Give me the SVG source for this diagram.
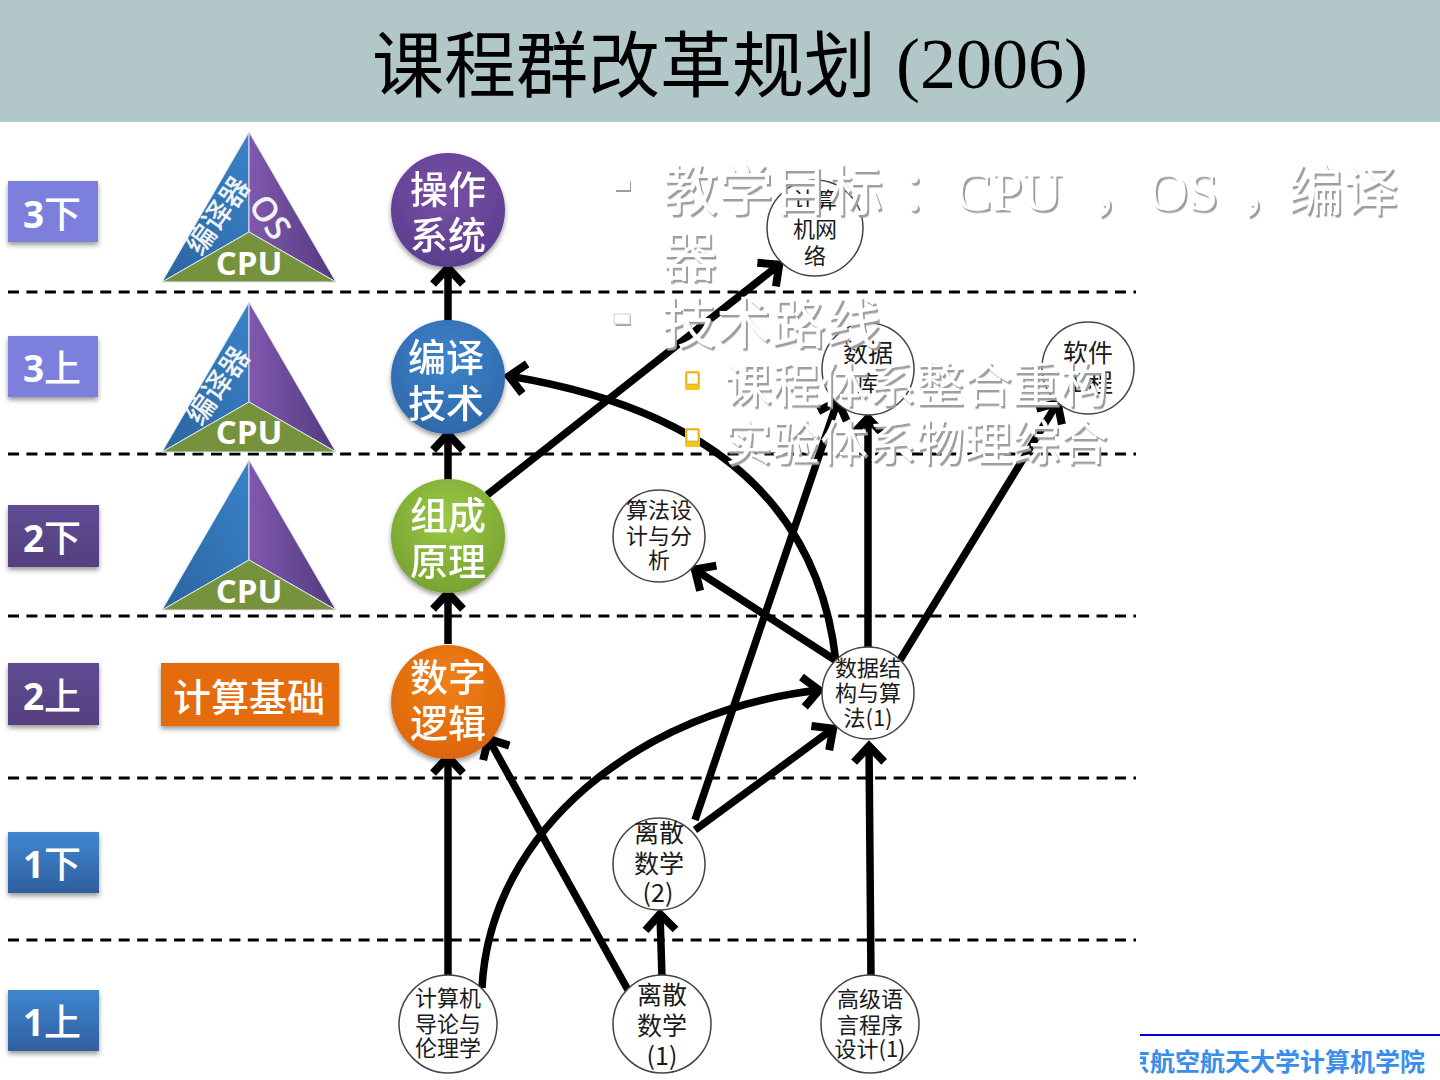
<svg xmlns="http://www.w3.org/2000/svg" width="1440" height="1080" viewBox="0 0 1440 1080">
<style>
.cjk{font-family:"Noto Sans CJK SC","Liberation Sans",sans-serif}
.serif{font-family:"Liberation Serif","Noto Sans CJK SC",serif}
.dash{stroke:#000;stroke-width:3;stroke-dasharray:11 7.45;fill:none}
.con{stroke:#000;stroke-width:7.5;fill:none;marker-end:url(#arrow)}
.course{fill:#fff;stroke:#444;stroke-width:1.5}
.ct{font-family:"Noto Sans CJK SC","Liberation Sans",sans-serif;font-size:22px;fill:#1a1a1a;text-anchor:middle}
.ct2{font-size:25px}
.big{font-family:"Noto Sans CJK SC","Liberation Sans",sans-serif;font-size:38px;fill:#fff;text-anchor:middle;font-weight:500}
.lab{font-family:"Noto Sans CJK SC","Open Sans",sans-serif;font-size:37px;fill:#fff;text-anchor:middle;font-weight:500}
.lab tspan{font-family:"Open Sans",sans-serif;font-weight:700}
.tri{stroke:#dfe6ee;stroke-width:1}
.cpu{font-family:"Open Sans","Liberation Sans",sans-serif;font-size:33px;font-weight:700;fill:#fff;text-anchor:middle}
.tt{font-family:"Noto Sans CJK SC",sans-serif;font-size:29px;font-weight:500;fill:#f2f2f2;text-anchor:middle}
.os{font-family:"Open Sans",sans-serif;font-size:34px;font-weight:600;fill:#f2f2f2;text-anchor:middle}
.ov{fill:#fff;filter:url(#hard)}
</style>
<defs>
<marker id="arrow" markerUnits="userSpaceOnUse" markerWidth="44" markerHeight="44" refX="28" refY="22" orient="auto" viewBox="0 0 44 44">
<path d="M11 7 L27 22 L11 37" fill="none" stroke="#000" stroke-width="8" stroke-linejoin="miter"/>
</marker>
<filter id="hard" x="-5%" y="-10%" width="110%" height="125%"><feDropShadow dx="2" dy="2.5" stdDeviation="0.3" flood-color="#9e9e9e"/></filter>
<filter id="soft" x="-15%" y="-15%" width="130%" height="130%"><feDropShadow dx="0" dy="3" stdDeviation="2.5" flood-color="#000" flood-opacity="0.4"/></filter>
<linearGradient id="gv" x1="0" y1="0" x2="0" y2="1"><stop offset="0" stop-color="#5f4b94"/><stop offset="1" stop-color="#55407f"/></linearGradient>
<linearGradient id="gb" x1="0" y1="0" x2="0" y2="1"><stop offset="0" stop-color="#3f86d0"/><stop offset="1" stop-color="#2f5f9f"/></linearGradient>
<linearGradient id="gTriB" x1="0" y1="1" x2="1" y2="0"><stop offset="0" stop-color="#2a659f"/><stop offset="1" stop-color="#3a82c8"/></linearGradient>
<linearGradient id="gTriV" x1="0" y1="0" x2="1" y2="0"><stop offset="0" stop-color="#8058ae"/><stop offset="1" stop-color="#523a7e"/></linearGradient>
<radialGradient id="cPurple" cx="0.5" cy="0.35" r="0.7"><stop offset="0" stop-color="#7a50a8"/><stop offset="1" stop-color="#5a3c8c"/></radialGradient>
<radialGradient id="cBlue" cx="0.5" cy="0.35" r="0.7"><stop offset="0" stop-color="#3f84cc"/><stop offset="1" stop-color="#2d66a8"/></radialGradient>
<radialGradient id="cGreen" cx="0.5" cy="0.35" r="0.7"><stop offset="0" stop-color="#9cc845"/><stop offset="1" stop-color="#74a030"/></radialGradient>
<radialGradient id="cOrange" cx="0.5" cy="0.35" r="0.7"><stop offset="0" stop-color="#f08018"/><stop offset="1" stop-color="#dc6408"/></radialGradient>
<clipPath id="footClip"><rect x="1140" y="1036" width="300" height="44"/></clipPath>
</defs>

<rect width="1440" height="122" fill="#b2c8c8"/>
<g id="title"><text x="372" y="91" font-size="72" fill="#000" class="cjk">课程群改革规划<tspan class="serif" x="896" y="88" font-size="72">(2006)</tspan></text></g>

<g id="dividers">
<line class="dash" x1="8" y1="292" x2="1136" y2="292"/>
<line class="dash" x1="8" y1="454" x2="1136" y2="454"/>
<line class="dash" x1="8" y1="616" x2="1136" y2="616"/>
<line class="dash" x1="8" y1="778" x2="1136" y2="778"/>
<line class="dash" x1="8" y1="940" x2="1136" y2="940"/>
</g>

<g id="term-3b"><rect x="8" y="181" width="90" height="61" fill="#7b7fdc" filter="url(#soft)"/><text class="lab" x="52" y="228"><tspan>3</tspan>下</text></g>
<g id="term-3a"><rect x="8" y="336" width="90" height="61" fill="#7b7fdc" filter="url(#soft)"/><text class="lab" x="52" y="382"><tspan>3</tspan>上</text></g>
<g id="term-2b"><rect x="8" y="505" width="91" height="62" fill="url(#gv)" filter="url(#soft)"/><text class="lab" x="52" y="552"><tspan>2</tspan>下</text></g>
<g id="term-2a"><rect x="8" y="663" width="91" height="62" fill="url(#gv)" filter="url(#soft)"/><text class="lab" x="52" y="710"><tspan>2</tspan>上</text></g>
<g id="term-1b"><rect x="8" y="832" width="91" height="61" fill="url(#gb)" filter="url(#soft)"/><text class="lab" x="52" y="878"><tspan>1</tspan>下</text></g>
<g id="term-1a"><rect x="8" y="990" width="91" height="61" fill="url(#gb)" filter="url(#soft)"/><text class="lab" x="52" y="1036"><tspan>1</tspan>上</text></g>

<g id="stack-3b">
<polygon class="tri" points="249,132 249,232 162,282" fill="url(#gTriB)"/>
<polygon class="tri" points="249,132 336,282 249,232" fill="url(#gTriV)"/>
<polygon class="tri" points="249,232 336,282 162,282" fill="#76923c"/>
<text class="tt" transform="translate(218,216) rotate(-55)" y="10">编译器</text>
<text class="os" transform="translate(270,217) rotate(55)" y="12">OS</text>
<text class="cpu" x="249" y="275">CPU</text>
</g>
<g id="stack-3a">
<polygon class="tri" points="249,302 249,402 162,452" fill="url(#gTriB)"/>
<polygon class="tri" points="249,302 336,452 249,402" fill="url(#gTriV)"/>
<polygon class="tri" points="249,402 336,452 162,452" fill="#76923c"/>
<text class="tt" transform="translate(218,386) rotate(-55)" y="10">编译器</text>
<text class="cpu" x="249" y="444">CPU</text>
</g>
<g id="stack-2b">
<polygon class="tri" points="249,460 249,560 162,610" fill="url(#gTriB)"/>
<polygon class="tri" points="249,460 336,610 249,560" fill="url(#gTriV)"/>
<polygon class="tri" points="249,560 336,610 162,610" fill="#76923c"/>
<text class="cpu" x="249" y="603">CPU</text>
</g>
<g id="foundation"><rect x="161" y="663" width="178" height="63" fill="#e46c0a" filter="url(#soft)"/><text class="big" x="249" y="711">计算基础</text></g>

<g id="connectors">
<path class="con" d="M448 644 L448 592"/>
<path class="con" d="M448 480 L448 433"/>
<path class="con" d="M448 322 L448 267"/>
<path class="con" d="M487 495 L780 264"/>
<path class="con" d="M836 662 Q810 425 508 376"/>
<path class="con" d="M835 660 L694 569"/>
<path class="con" d="M695 820 L838 400"/>
<path class="con" d="M695 830 L834 728"/>
<path class="con" d="M868 650 L868 417"/>
<path class="con" d="M900 660 L1058 402"/>
<path class="con" d="M871 978 L869 745"/>
<path class="con" d="M662 978 L660 913"/>
<path class="con" d="M628 990 L488 738"/>
<path class="con" d="M448 978 L448 756"/>
<path class="con" d="M482 988 C490 830 640 710 820 690"/>
</g>

<g id="os" filter="url(#soft)"><circle cx="448" cy="210" r="57" fill="url(#cPurple)"/><text class="big" x="448" y="203">操作</text><text class="big" x="448" y="249">系统</text></g>
<g id="compiler" filter="url(#soft)"><circle cx="448" cy="377" r="57" fill="url(#cBlue)"/><text class="big" x="446" y="371">编译</text><text class="big" x="446" y="417">技术</text></g>
<g id="organization" filter="url(#soft)"><circle cx="448" cy="536" r="57" fill="url(#cGreen)"/><text class="big" x="448" y="529">组成</text><text class="big" x="448" y="575">原理</text></g>
<g id="digital" filter="url(#soft)"><circle cx="448" cy="702" r="57" fill="url(#cOrange)"/><text class="big" x="448" y="691">数字</text><text class="big" x="448" y="737">逻辑</text></g>

<g id="network"><circle class="course" cx="815" cy="228" r="48"/><text class="ct" x="815" y="208">计算</text><text class="ct" x="815" y="237">机网</text><text class="ct" x="815" y="264">络</text></g>
<g id="database"><circle class="course" cx="868" cy="369" r="46"/><text class="ct ct2" x="868" y="362">数据</text><text class="ct" x="868" y="391">库</text></g>
<g id="software"><circle class="course" cx="1088" cy="368" r="46"/><text class="ct ct2" x="1088" y="362">软件</text><text class="ct ct2" x="1088" y="392">工程</text></g>
<g id="algorithm"><circle class="course" cx="659" cy="536" r="46"/><text class="ct" x="659" y="518">算法设</text><text class="ct" x="659" y="544">计与分</text><text class="ct" x="659" y="568">析</text></g>
<g id="datastruct"><circle class="course" cx="868" cy="693" r="46"/><text class="ct" x="868" y="676">数据结</text><text class="ct" x="868" y="701">构与算</text><text class="ct" x="868" y="726">法(1)</text></g>
<g id="discrete2"><circle class="course" cx="659" cy="864" r="46"/><text class="ct ct2" x="659" y="842">离散</text><text class="ct ct2" x="659" y="873">数学</text><text class="ct ct2" x="658" y="902">(2)</text></g>
<g id="intro"><circle class="course" cx="448" cy="1024" r="49"/><text class="ct" x="448" y="1006">计算机</text><text class="ct" x="448" y="1032">导论与</text><text class="ct" x="448" y="1056">伦理学</text></g>
<g id="discrete1"><circle class="course" cx="662" cy="1024" r="49"/><text class="ct ct2" x="662" y="1004">离散</text><text class="ct ct2" x="662" y="1035">数学</text><text class="ct ct2" x="662" y="1065">(1)</text></g>
<g id="programming"><circle class="course" cx="870" cy="1024" r="49"/><text class="ct" x="870" y="1007">高级语</text><text class="ct" x="870" y="1033">言程序</text><text class="ct" x="870" y="1057">设计(1)</text></g>

<g id="overlay">
<rect class="ov" x="614" y="179" width="16" height="11"/>
<rect class="ov" x="614" y="314" width="16" height="10" stroke="#cfcfcf" stroke-width="1"/>
<rect x="685" y="371" width="15" height="19" rx="2" fill="#f5c518"/><rect x="687" y="373" width="11" height="11" fill="#fff" stroke="#b58a00" stroke-width="0.5"/>
<rect x="685" y="428" width="15" height="19" rx="2" fill="#f5c518"/><rect x="687" y="430" width="11" height="11" fill="#fff" stroke="#b58a00" stroke-width="0.5"/>
<text class="ov cjk" font-size="55" x="663" y="210">教学目标<tspan x="900">：</tspan><tspan class="serif" x="955">CPU</tspan><tspan x="1092">，</tspan><tspan class="serif" x="1148">OS</tspan><tspan x="1240">，</tspan><tspan x="1288">编译</tspan></text>
<text class="ov cjk" font-size="55" x="662" y="276">器</text>
<text class="ov cjk" font-size="55" x="661" y="343">技术路线</text>
<text class="ov cjk" font-size="48" x="724" y="402">课程体系整合重构</text>
<text class="ov cjk" font-size="48" x="724" y="460">实验体系物理综合</text>
</g>

<g id="footer">
<line x1="1140" y1="1035" x2="1440" y2="1035" stroke="#0000cc" stroke-width="2"/>
<text clip-path="url(#footClip)" class="cjk" x="1100" y="1071" font-size="25" font-weight="700" fill="#3b8ee8">北京航空航天大学计算机学院</text>
</g>
</svg>
